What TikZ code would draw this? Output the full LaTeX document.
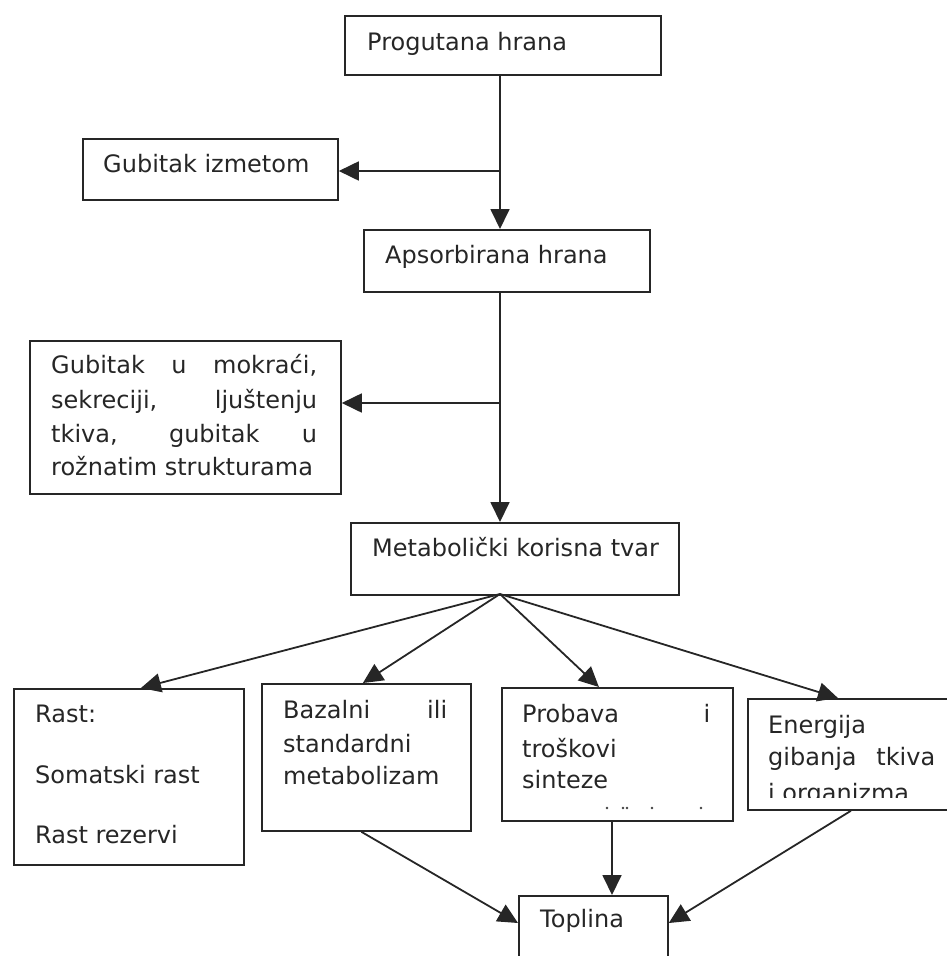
\documentclass[tikz,border=0pt]{standalone}
\usepackage{fontspec}
\setmainfont{DejaVu Sans}
\usetikzlibrary{arrows.meta}
\begin{document}
\begin{tikzpicture}[x=1pt,y=-1pt,
  box/.style={draw=black!85, line width=1.8pt, anchor=north west, inner sep=0pt},
  conn/.style={draw=black!85, line width=1.8pt, -{Triangle[length=20pt,width=19pt]}},
  txt/.style={anchor=base west, inner sep=0pt, text=black!85, font=\fontsize{24}{34}\selectfont}]
\useasboundingbox (0,0) rectangle (947,956);
% boxes
\node[box, minimum width=316pt, minimum height=59pt] (prog) at (344,15) {};
\node[box, minimum width=255pt, minimum height=61pt] (gi) at (82,138) {};
\node[box, minimum width=286pt, minimum height=62pt] (aps) at (363,229) {};
\node[box, minimum width=311pt, minimum height=153pt] (gm) at (29,340) {};
\node[box, minimum width=328pt, minimum height=72pt] (met) at (350,522) {};
\node[box, minimum width=230pt, minimum height=176pt] (rast) at (13,688) {};
\node[box, minimum width=209pt, minimum height=147pt] (baz) at (261,683) {};
\node[box, minimum width=231pt, minimum height=133pt] (prob) at (501,687) {};
\node[box, minimum width=220pt, minimum height=111pt] (ener) at (747,698) {};
\node[box, minimum width=149pt, minimum height=95pt] (topl) at (518,895) {};
% texts
\node[txt] (tprog) at (367,50) {Progutana hrana};
\node[txt] (tgi) at (103,172) {Gubitak izmetom};
\node[txt] (taps) at (385,263) {Apsorbirana hrana};
\node[txt] (tgm1) at (51,373) {\makebox[266pt][s]{Gubitak u mokraći,}};
\node[txt] (tgm2) at (51,408) {\makebox[266pt][s]{sekreciji, ljuštenju}};
\node[txt] (tgm3) at (51,442) {\makebox[266pt][s]{tkiva, gubitak u}};
\node[txt] (tgm4) at (51,475) {rožnatim strukturama};
\node[txt] (tmet) at (372,556) {Metabolički korisna tvar};
\node[txt] (tr1) at (35,722) {Rast:};
\node[txt] (tr2) at (35,783) {Somatski rast};
\node[txt] (tr3) at (35,843) {Rast rezervi};
\node[txt] (tb1) at (283,718) {\makebox[164pt][s]{Bazalni ili}};
\node[txt] (tb2) at (283,752) {standardni};
\node[txt] (tb3) at (283,784) {metabolizam};
\node[txt] (tp1) at (522,722) {\makebox[188pt][s]{Probava i}};
\node[txt] (tp2) at (522,757) {troškovi};
\node[txt] (tp3) at (522,788) {sinteze};
\foreach \dx in {607,623,627,652,701} \fill[black!75] (\dx,808) circle (1.3pt);
\node[txt] (te1) at (768,733) {Energija};
\node[txt] (te2) at (768,765) {\makebox[167pt][s]{gibanja tkiva}};
\begin{scope}
\clip (747,770) rectangle (947,797);
\node[txt] (te3) at (768,801) {i organizma};
\end{scope}
\node[txt] (ttopl) at (540,927) {Toplina};
% connectors
\coordinate (trunk) at (500,0);
\coordinate (b1) at (500,171);
\coordinate (b2) at (500,403);
\coordinate (ms) at (500,594);
\draw[conn] (prog.south -| trunk) -- (aps.north -| trunk);
\draw[conn] (b1) -- (b1 -| gi.east);
\draw[conn] (aps.south -| trunk) -- (met.north -| trunk);
\draw[conn] (b2) -- (b2 -| gm.east);
\draw[conn] (ms) -- ([xshift=12pt]rast.north);
\draw[conn] (ms) -- ([xshift=-3.5pt]baz.north);
\draw[conn] (ms) -- ([xshift=-18.5pt]prob.north);
\draw[conn] (ms) -- ([xshift=-20pt]ener.north);
\coordinate (xc) at (612,0);
\draw[conn] ([xshift=-5pt]baz.south) -- ([yshift=-28pt]topl.north west);
\draw[conn] (prob.south -| xc) -- (topl.north -| xc);
\draw[conn] ([xshift=-7pt]ener.south) -- ([yshift=-28pt]topl.north east);
\end{tikzpicture}
\end{document}
